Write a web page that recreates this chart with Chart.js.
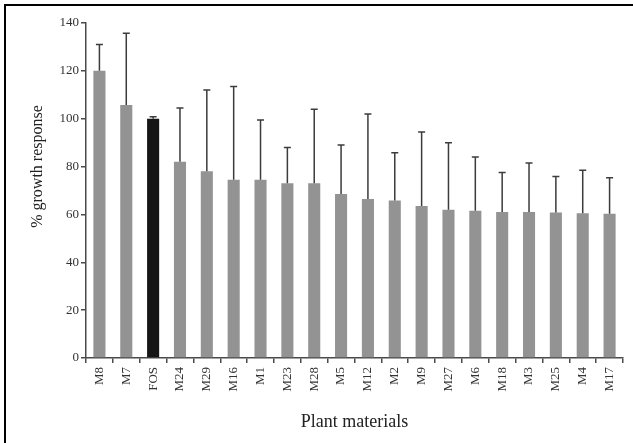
<!DOCTYPE html>
<html>
<head>
<meta charset="utf-8">
<script src="https://cdn.jsdelivr.net/npm/chart.js@4/dist/chart.umd.min.js"></script>
<style>
  html, body { margin: 0; padding: 0; background: #fff; }
  #wrap { position: relative; width: 633px; height: 443px; }
  #frame {
    position: absolute; left: 4px; top: 4px; right: 0; bottom: 0;
    border-top: 2px solid #000; border-left: 2px solid #000;
    pointer-events: none;
  }
</style>
</head>
<body>
<div id="wrap">
  <canvas id="growthChart" width="633" height="443"></canvas>
  <div id="frame"></div>
</div>
<script>
// Plant materials, sorted by mean growth response
const materials = ['M8', 'M7', 'FOS', 'M24', 'M29', 'M16', 'M1', 'M23', 'M28', 'M5',
                   'M12', 'M2', 'M9', 'M27', 'M6', 'M18', 'M3', 'M25', 'M4', 'M17'];

// Mean % growth response
const meanResponse = [120, 105.7, 100, 82, 78, 74.5, 74.5, 73, 73, 68.5,
                      66.5, 65.8, 63.5, 62, 61.5, 61, 61, 60.8, 60.5, 60.3];

// Standard deviation (drawn as upper error bar only)
const sdResponse = [11, 30, 0.8, 22.5, 34, 39, 25, 15, 31, 20.5,
                    35.5, 20, 31, 28, 22.5, 16.5, 20.5, 15, 18, 15];

const yTicks = [0, 20, 40, 60, 80, 100, 120, 140];
const yTitle = '% growth response';

const GREY = '#939393';
const REFERENCE_COLOR = '#161616';
const AXIS = '#4a4a4a';
const FONT = '"Liberation Serif", "DejaVu Serif", serif';

// upper error bars: stem from bar top to mean + sd, plus a short cap
const errorBars = {
  id: 'errorBars',
  afterDatasetsDraw(chart) {
    const { ctx } = chart;
    const yScale = chart.scales.y;
    const meta = chart.getDatasetMeta(0);
    ctx.save();
    ctx.strokeStyle = '#3c3c3c';
    ctx.lineWidth = 1.5;
    meta.data.forEach((bar, i) => {
      const top = yScale.getPixelForValue(meanResponse[i] + sdResponse[i]);
      ctx.beginPath();
      ctx.moveTo(bar.x, bar.y);
      ctx.lineTo(bar.x, top);
      ctx.moveTo(bar.x - 3.5, top);
      ctx.lineTo(bar.x + 3.5, top);
      ctx.stroke();
    });
    ctx.restore();
  }
};

// y-axis title, sitting a little above the middle of the axis
const sideTitle = {
  id: 'sideTitle',
  afterDraw(chart) {
    const { ctx, chartArea } = chart;
    const midY = (chartArea.top + chartArea.bottom) / 2 - 24;
    ctx.save();
    ctx.translate(38, midY);
    ctx.rotate(-Math.PI / 2);
    ctx.fillStyle = '#222';
    ctx.font = '16px ' + FONT;
    ctx.textAlign = 'center';
    ctx.textBaseline = 'middle';
    ctx.fillText(yTitle, 0, 0);
    ctx.restore();
  }
};

const ctx = document.getElementById('growthChart').getContext('2d');
new Chart(ctx, {
  type: 'bar',
  data: {
    labels: materials,
    datasets: [{
      data: meanResponse,
      backgroundColor: materials.map(m => m === 'FOS' ? REFERENCE_COLOR : GREY),
      borderWidth: 0,
      barPercentage: 0.9,
      categoryPercentage: 0.5,
    }]
  },
  options: {
    responsive: false,
    animation: false,
    layout: { padding: { top: 23, right: 10, bottom: 0, left: 0 } },
    plugins: {
      legend: { display: false },
      tooltip: { enabled: false }
    },
    scales: {
      x: {
        afterFit: scale => { scale.height = 85; },
        ticks: {
          autoSkip: false,
          minRotation: 90,
          maxRotation: 90,
          color: '#333',
          padding: 4,
          font: { family: FONT, size: 13 }
        },
        grid: { display: true, drawOnChartArea: false, tickLength: 5, color: AXIS, lineWidth: 1.5 },
        border: { display: true, color: AXIS, width: 1.5 },
        title: {
          display: true,
          text: 'Plant materials',
          color: '#222',
          padding: { top: 0, bottom: 10 },
          font: { family: FONT, size: 18 }
        }
      },
      y: {
        min: 0,
        max: 140,
        afterFit: scale => { scale.width = 86; },
        afterBuildTicks: scale => { scale.ticks = yTicks.map(v => ({ value: v })); },
        ticks: {
          color: '#333',
          padding: 2,
          font: { family: FONT, size: 13 }
        },
        grid: { display: true, drawOnChartArea: false, tickLength: 5, color: AXIS, lineWidth: 1.5 },
        border: { display: true, color: AXIS, width: 1.5 }
      }
    }
  },
  plugins: [errorBars, sideTitle]
});
</script>
</body>
</html>
